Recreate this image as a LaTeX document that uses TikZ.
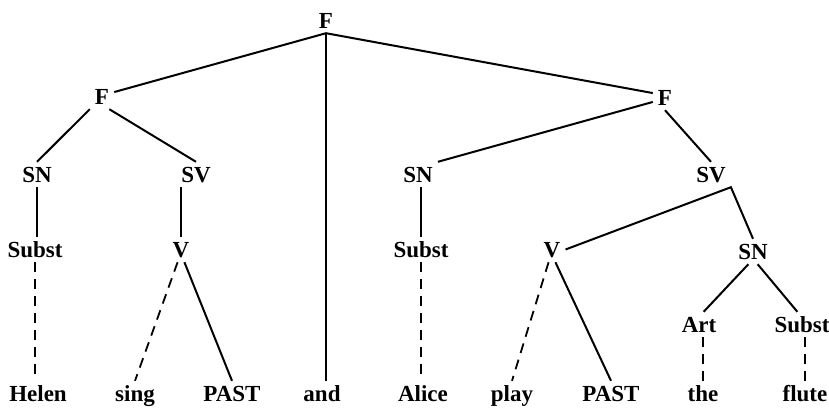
\documentclass[tikz,border=0pt]{standalone}
\usepackage{fontspec}
\setmainfont{Liberation Serif}
\begin{document}
\begin{tikzpicture}[x=1pt,y=-1pt,
  lab/.style={font=\bfseries\fontsize{23}{27}\selectfont, anchor=base,
              inner sep=5pt, text height=15pt, text depth=0pt},
  edge/.style={line width=2pt},
  dashedge/.style={line width=1.8pt, dash pattern=on 10pt off 7pt}]
\useasboundingbox (0,0) rectangle (829,408);

% category labels
\node[lab] (F0)  at (326,28)  {F};
\node[lab] (F1)  at (102,104) {F};
\node[lab] (F2)  at (665,105) {F};
\node[lab] (SN1) at (37,182)  {SN};
\node[lab] (SV1) at (196,182) {SV};
\node[lab] (SN2) at (418,182) {SN};
\node[lab] (SV2) at (711,182) {SV};
\node[lab] (Su1) at (35,257)  {Subst};
\node[lab] (V1)  at (181,257) {V};
\node[lab] (Su2) at (421,257) {Subst};
\node[lab] (V2)  at (552,257) {V};
\node[lab] (SN3) at (753,259) {SN};
\node[lab] (Art) at (699,332) {Art};
\node[lab] (Su3) at (802,332) {Subst};

% terminal words
\node[lab] (w1) at (38,401)  {Helen};
\node[lab] (w2) at (135,401) {sing};
\node[lab] (w3) at (232,401) {PAST};
\node[lab] (w4) at (322,401) {and};
\node[lab] (w5) at (423,401) {Alice};
\node[lab] (w6) at (512,401) {play};
\node[lab] (w7) at (611,401) {PAST};
\node[lab] (w8) at (703,401) {the};
\node[lab] (w9) at (805,401) {flute};

% branches
\draw[edge] (F1.20) -- (F0.south) -- (F2.160);
\draw[edge] (F0.south) -- (F0.south |- w4.north);

\draw[edge] (F1.south west) -- (SN1.north);
\draw[edge] (F1.-60) -- (SV1.north);
\draw[edge] (SN1.south) -- (SN1.south |- Su1.north);
\draw[edge] (V1.north |- SV1.south) -- (V1.north);
\draw[dashedge] (Su1.south) -- (Su1.south |- w1.north);
\draw[dashedge] (V1.-105) -- (w2.north);
\draw[edge] (V1.-75) -- (w3.north);

\draw[edge] (F2.200) -- (SN2.north east);
\draw[edge] (F2.south) -- (SV2.north);
\draw[edge] (Su2.north |- SN2.south) -- (Su2.north);
\draw[dashedge] (Su2.south) -- (Su2.south |- w5.north);

\draw[edge] (V2.east) -- (SV2.south east) -- (SN3.north);
\draw[dashedge] (V2.-105) -- (w6.north);
\draw[edge] (V2.-75) -- (w7.north);
\draw[edge] (SN3.-110) -- (Art.70);
\draw[edge] (SN3.-70) -- (Su3.110);
\draw[dashedge] (w8.north |- Art.south) -- (w8.north);
\draw[dashedge] (w9.north |- Su3.south) -- (w9.north);
\end{tikzpicture}
\end{document}
